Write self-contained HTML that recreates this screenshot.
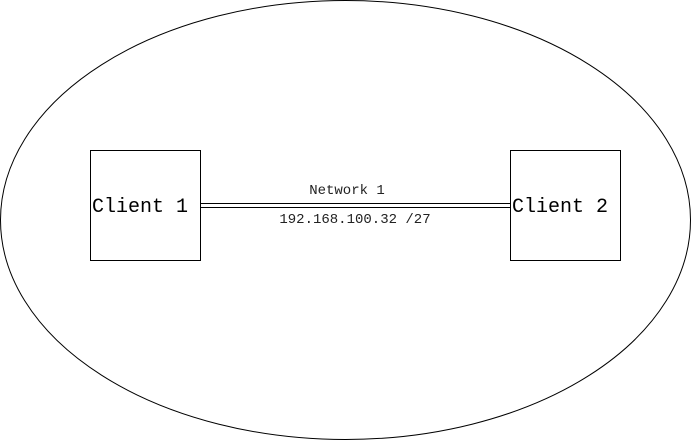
<!DOCTYPE html>
<html><head><meta charset="utf-8"><style>
html,body{margin:0;padding:0;background:#fff;}
svg{display:block;}
</style></head><body>
<svg width="691" height="441" viewBox="0 0 691 441" xmlns="http://www.w3.org/2000/svg">
<ellipse cx="345.5" cy="220" rx="345" ry="219.5" fill="#fff" stroke="#000" stroke-width="1"/>
<rect x="90.5" y="150.5" width="110" height="110" fill="#fff" stroke="#000"/>
<rect x="510.5" y="150.5" width="110" height="110" fill="#fff" stroke="#000"/>
<line x1="200.5" y1="203.5" x2="510.5" y2="203.5" stroke="#000"/>
<line x1="200.5" y1="207.5" x2="510.5" y2="207.5" stroke="#000"/>
<g font-family="'Liberation Mono','DejaVu Sans Mono',monospace" fill="#000">
<text x="140" y="212" font-size="20" text-anchor="middle">Client 1</text>
<text x="560" y="212" font-size="20" text-anchor="middle">Client 2</text>
<text x="347" y="194" font-size="14" text-anchor="middle" fill="#222">Network 1</text>
<text x="355" y="223" font-size="14" text-anchor="middle" fill="#222">192.168.100.32 /27</text>
</g>
</svg>
</body></html>
